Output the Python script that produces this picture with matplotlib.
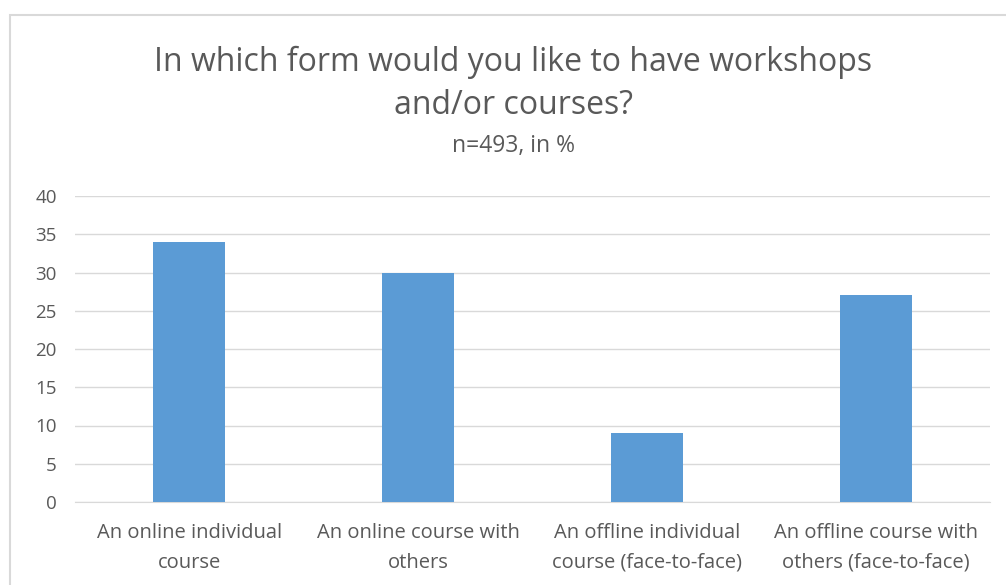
import matplotlib
matplotlib.use("Agg")
import matplotlib.pyplot as plt
from matplotlib.patches import Rectangle

categories = ["An online individual\ncourse", "An online course with\nothers",
              "An offline individual\ncourse (face-to-face)", "An offline course with\nothers (face-to-face)"]
values = [34, 30, 9, 27]
yticks = [0, 5, 10, 15, 20, 25, 30, 35, 40]

plt.rcParams['font.family'] = ['Open Sans', 'DejaVu Sans']
txt = "#595959"

fig = plt.figure(figsize=(10.06, 5.85), dpi=100)
fig.patches.append(Rectangle((10/1006, -0.1), 1.2, 1 - 15/585 + 0.1, transform=fig.transFigure,
                             fill=False, edgecolor="#D9D9D9", linewidth=1.5))
ax = fig.add_axes([75/1006, 1 - 502/585, (990 - 75)/1006, (502 - 196)/585])
x = list(range(len(categories)))
ax.bar(x, values, width=0.315, color="#5B9BD5", zorder=3)
ax.set_xlim(-0.5, 3.5)
ax.set_ylim(0, 40)
ax.set_yticks(yticks)
ax.yaxis.grid(True, color="#D9D9D9", linewidth=1, zorder=0)
ax.set_xticks(x)
ax.set_xticklabels(categories, fontsize=14.5, color=txt, linespacing=1.65)
ax.tick_params(axis='y', labelsize=13.5, labelcolor=txt, length=0, pad=13)
ax.tick_params(axis='x', length=0, pad=15)
for s in ["top", "right", "left"]:
    ax.spines[s].set_visible(False)
ax.spines["bottom"].set_color("#D9D9D9")

fig.text(513/1006, 1 - 84/585, "In which form would you like to have workshops\nand/or courses?",
         ha="center", va="center", fontsize=23, color=txt, linespacing=1.38)
fig.text(513/1006, 1 - 146/585, "n=493, in %", ha="center", va="center", fontsize=16.5, color=txt)

fig.savefig("out.png", dpi=100)
